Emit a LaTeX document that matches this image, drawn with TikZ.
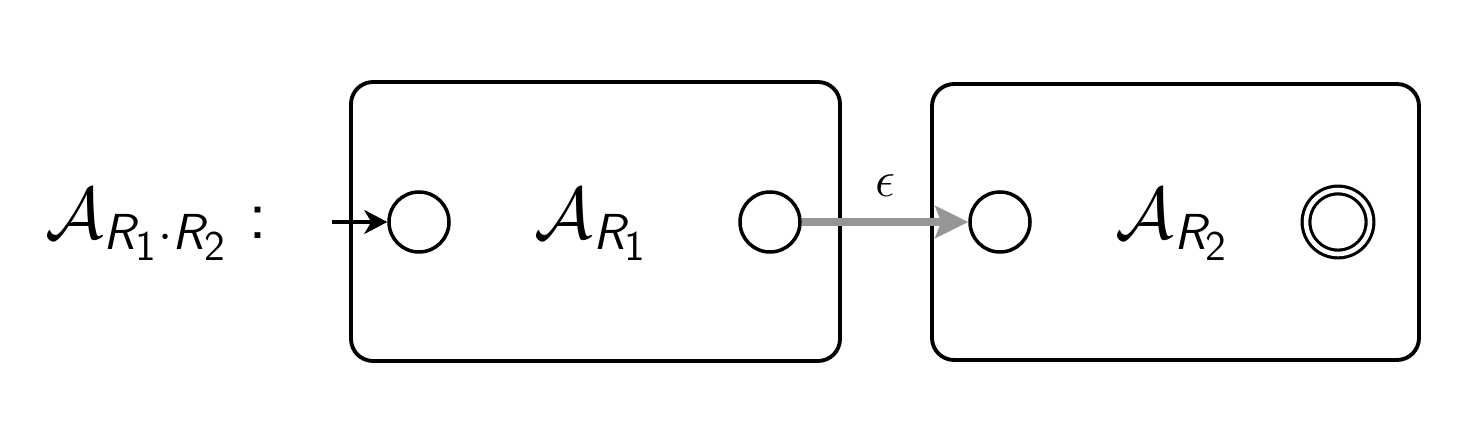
\documentclass[tikz,border=0pt]{standalone}
\usepackage{amsmath}
\usepackage{amssymb}
\usetikzlibrary{arrows.meta, positioning}

\definecolor{epsgray}{RGB}{150,150,150}
\newcommand{\sfR}[1]{\textsf{\slshape R}_{\textsf{#1}}}

\begin{document}
\begin{tikzpicture}[
    state/.style={circle, draw, line width=1pt, minimum size=0.6cm, inner sep=0pt},
    accept/.style={circle, draw, line width=0.9pt, double, double distance=1.3pt, minimum size=0.64cm, inner sep=0pt},
    box/.style={draw, rounded corners=0.22cm, line width=1.1pt},
    biglbl/.style={font=\huge},
    epsarrow/.style={draw=epsgray, line width=2.3pt, -{Stealth[length=3.3mm, width=3.2mm, inset=0.6mm]}}
]
\useasboundingbox (0,0) rectangle (14.69,4.47);

% the two sub-automata
\node[box, minimum width=4.89cm, minimum height=2.79cm] (boxA) at (5.955,2.255) {};
\node[box, minimum width=4.87cm, minimum height=2.76cm] (boxB) at (11.755,2.25) {};

\node[state] (q0) at (4.19,2.25) {};
\node[state] (q1) at (7.70,2.25) {};
\node[state] (p0) at (10.00,2.25) {};
\node[accept] (p1) at (13.38,2.25) {};

\node[biglbl] (labA) at (5.92,2.22) {$\mathcal{A}_{\sfR{1}}$};
\node[biglbl] (labB) at (11.73,2.22) {$\mathcal{A}_{\sfR{2}}$};

% name of the whole automaton
\node[biglbl, anchor=west, inner sep=0pt] (lab) at (0.45,2.22) {$\mathcal{A}_{\sfR{1}\cdot\sfR{2}}$\hspace{0.2cm}\textsf{:}};

\coordinate[left=0.55cm of q0] (start);
\draw[line width=1pt, -{Stealth[length=2.3mm, width=2.4mm, inset=0.7mm]}] (start) -- (q0);
\draw[epsarrow] (q1) -- node[above=0.1cm, text=black, font=\Large] {$\epsilon$} (p0);
\end{tikzpicture}
\end{document}
